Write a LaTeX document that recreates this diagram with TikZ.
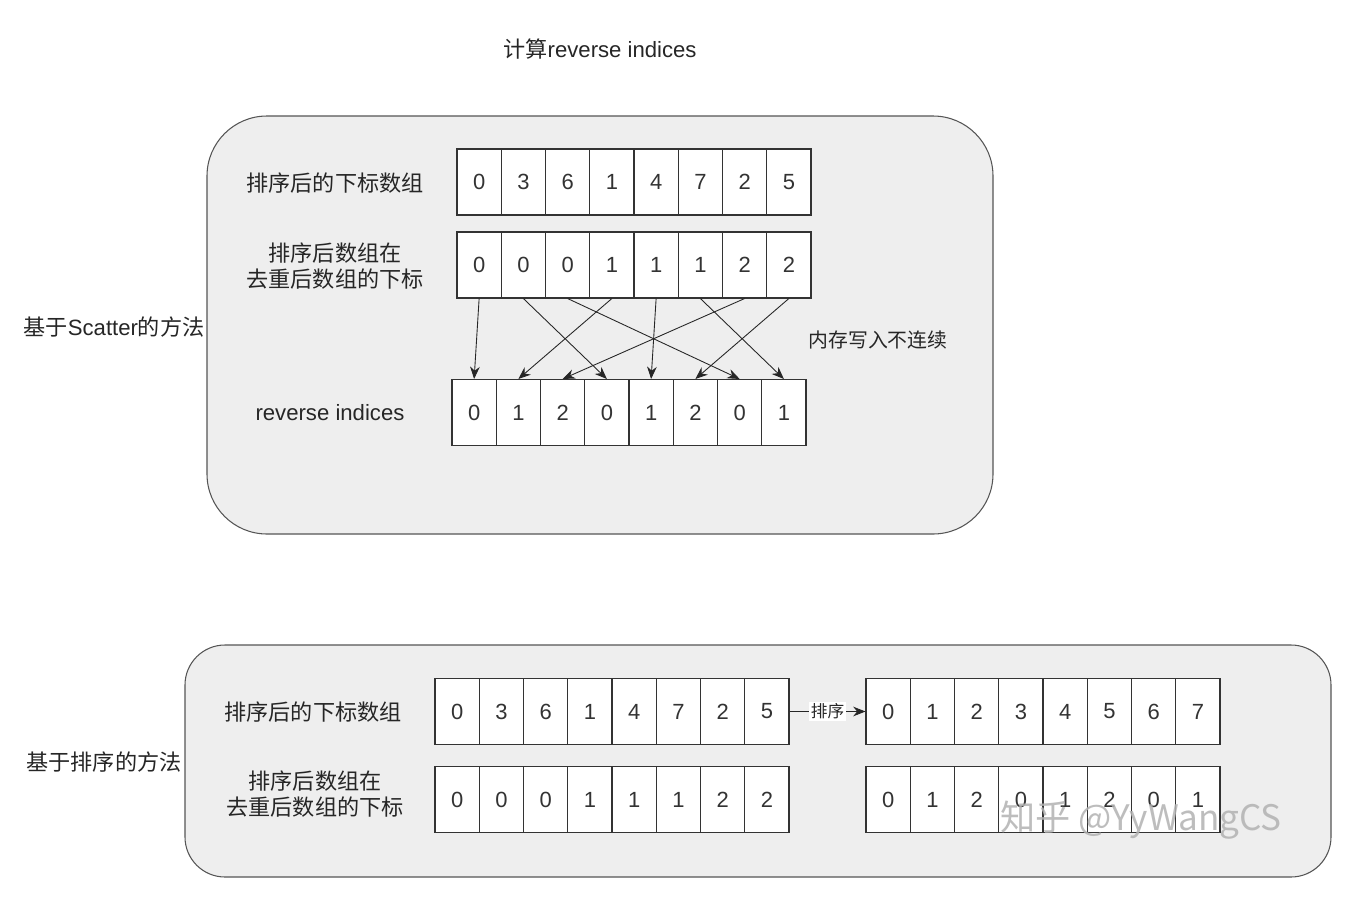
\documentclass[tikz,border=0pt]{standalone}
\usepackage{fontspec}
\setmainfont{Liberation Sans}
\newfontfamily\cjk{Noto Sans CJK SC}
\usetikzlibrary{arrows.meta}
\definecolor{panelbg}{HTML}{EEEEEE}
\definecolor{panelbd}{HTML}{555555}
\definecolor{ink}{HTML}{333333}
\begin{document}
\begin{tikzpicture}[x=0.02cm,y=-0.02cm,
  cell/.style={draw=ink,fill=white,line width=0.6pt,minimum width=0.885cm,minimum height=1.32cm,inner sep=0pt,text=ink,font=\fontsize{12.5}{14}\selectfont},
  lbl/.style={align=center,text=black!85,font=\fontsize{12.6}{15}\selectfont},
  panel/.style={draw=panelbd,fill=panelbg,line width=0.6pt},
  arr/.style={-{Stealth[length=7pt,width=5.5pt]},line width=0.5pt,draw=black!85}]
\useasboundingbox (0,0) rectangle (1350,900);
\fill[white] (0,0) rectangle (1350,900);
% panels
\draw[panel,rounded corners=1.2cm] (207,116) rectangle (993,534);
\draw[panel,rounded corners=0.8cm] (185,645) rectangle (1331,877);
% title and side labels
\node[lbl] (title) at (600,49) {{\cjk 计算}reverse indices};
\node[lbl] (m1) at (114,327) {{\cjk 基于}Scatter{\cjk 的方法}};
\node[lbl] (m2) at (104,762) {\cjk 基于排序的方法};
% top panel
\node[lbl] (la) at (335,183) {\cjk 排序后的下标数组};
\node[lbl,font=\cjk\fontsize{12.6}{15}\selectfont] (lb) at (335,266) {排序后数组在\\去重后数组的下标};
\node[lbl] (lc) at (330,413) {reverse indices};
\node[lbl,font=\cjk\fontsize{11.3}{13}\selectfont] (note) at (878,340) {内存写入不连续};
\foreach \v [count=\i] in {0,3,6,1,4,7,2,5}
  \node[cell] (a\i) at ({457+44.25*(\i-0.5)},182) {\v};
\foreach \v [count=\i] in {0,0,0,1,1,1,2,2}
  \node[cell] (b\i) at ({457+44.25*(\i-0.5)},265) {\v};
\foreach \v [count=\i] in {0,1,2,0,1,2,0,1}
  \node[cell] (c\i) at ({452+44.25*(\i-0.5)},412.5) {\v};
\foreach \s/\t in {1/1,2/4,3/7,4/2,5/5,6/8,7/3,8/6}
  \draw[arr] (b\s.south) -- (c\t.north);
% bottom panel
\node[lbl] (ld) at (313,712) {\cjk 排序后的下标数组};
\node[lbl,font=\cjk\fontsize{12.6}{15}\selectfont] (le) at (315,794) {排序后数组在\\去重后数组的下标};
\foreach \v [count=\i] in {0,3,6,1,4,7,2,5}
  \node[cell] (d\i) at ({435+44.25*(\i-0.5)},711.5) {\v};
\foreach \v [count=\i] in {0,0,0,1,1,1,2,2}
  \node[cell] (e\i) at ({435+44.25*(\i-0.5)},799.5) {\v};
\foreach \v [count=\i] in {0,1,2,3,4,5,6,7}
  \node[cell] (f\i) at ({866+44.25*(\i-0.5)},711.5) {\v};
\foreach \v [count=\i] in {0,1,2,0,1,2,0,1}
  \node[cell] (g\i) at ({866+44.25*(\i-0.5)},799.5) {\v};
\draw[arr] (d8.east) -- node[fill=white,inner sep=1pt,text=black!85,font=\cjk\fontsize{9.5}{11}\selectfont] (sortlbl) {排序} (f1.west);
% watermark
\node[text=black!30,opacity=0.85,font=\cjk\fontsize{20}{24}\selectfont] (wm) at (1141,820) {知乎 @YyWangCS};
\end{tikzpicture}
\end{document}
